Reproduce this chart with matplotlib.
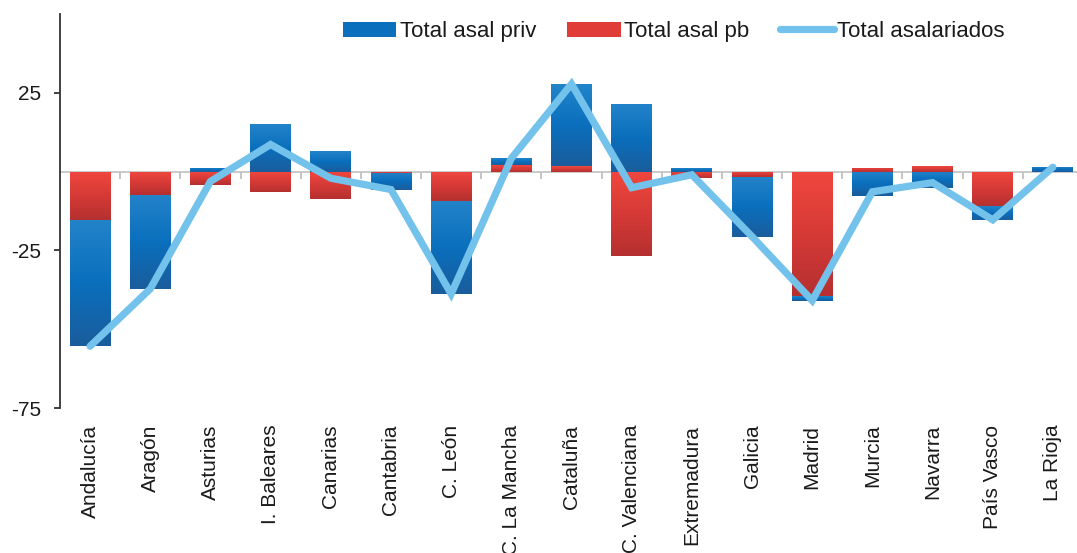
import matplotlib
matplotlib.use("Agg")
import matplotlib.pyplot as plt
from matplotlib.colors import LinearSegmentedColormap
import numpy as np

plt.rcParams['font.family'] = ['Liberation Sans', 'DejaVu Sans']

# data
regions = ["Andalucía", "Aragón", "Asturias", "I. Baleares", "Canarias", "Cantabria",
           "C. León", "C. La Mancha", "Cataluña", "C. Valenciana", "Extremadura",
           "Galicia", "Madrid", "Murcia", "Navarra", "País Vasco", "La Rioja"]
asal_priv = [-40.1, -29.8, 1.3, 15.1, 6.5, -5.4, -29.5, 2.0, 26.0, 21.6, 1.1,
             -19.0, -1.4, -7.7, -5.3, -4.4, 1.6]
asal_pb = [-15.3, -7.4, -4.4, -6.5, -8.6, -0.3, -9.3, 2.2, 1.8, -26.7, -2.1,
           -1.6, -39.5, 1.3, 1.8, -10.9, -0.2]
asal_total = [-55.4, -37.2, -3.1, 8.6, -2.1, -5.7, -38.8, 4.2, 27.8, -5.1, -1.0,
              -20.6, -40.9, -6.4, -3.5, -15.3, 1.4]

x = np.arange(len(regions))
priv = np.array(asal_priv)
pb = np.array(asal_pb)
# public part sits at the base, private stacks on it when same sign
priv_bottom = np.where(np.sign(priv) == np.sign(pb), pb, 0)

fig = plt.figure(figsize=(10.77, 5.53), dpi=100)
ax = fig.add_axes([60 / 1077, 145 / 553, 1023 / 1077, 394 / 553])

ax.axhline(0, color='#c0c0c0', lw=1.2, zorder=1)

bars_pb = ax.bar(x, pb, width=0.68, color='#e03c38', label='Total asal pb', zorder=2)
bars_priv = ax.bar(x, priv, width=0.68, bottom=priv_bottom, color='#0a70bd',
                   label='Total asal priv', zorder=2)

# vertical gradient on each bar segment
cm_blue = LinearSegmentedColormap.from_list('b', ['#1a5d9c', '#0a6fbd', '#2283c9'])
cm_red = LinearSegmentedColormap.from_list('r', ['#b53030', '#d63a36', '#f0473f'])
grad = np.linspace(1, 0, 64).reshape(-1, 1)
for bars, cm in ((bars_pb, cm_red), (bars_priv, cm_blue)):
    for rect in bars:
        bb = rect.get_bbox()
        if abs(bb.y1 - bb.y0) < 1e-6:
            continue
        im = ax.imshow(grad, cmap=cm, aspect='auto', origin='upper',
                       extent=[bb.x0, bb.x1, min(bb.y0, bb.y1), max(bb.y0, bb.y1)],
                       zorder=2.5, interpolation='bilinear')
        im.set_clip_path(rect)

line, = ax.plot(x, asal_total, color='#73c2ec', lw=5.2, solid_joinstyle='miter',
                solid_capstyle='round', label='Total asalariados', zorder=3)

ax.set_xlim(-0.5, len(regions) - 0.5)
ax.set_ylim(-75, 50)

for s in ('top', 'right', 'bottom'):
    ax.spines[s].set_visible(False)
ax.spines['left'].set_color('#333333')
ax.spines['left'].set_linewidth(1.3)

ax.set_yticks([25, -25, -75])
ax.set_yticklabels(['25', '-25', '-75'])
ax.tick_params(axis='y', length=4.5, width=1.3, color='#333333', pad=9,
               labelsize=15, labelcolor='#1a1a1a')
ax.set_xticks(x)
ax.set_xticklabels(regions, rotation=90)
ax.tick_params(axis='x', length=0, pad=12, labelsize=15, labelcolor='#1a1a1a')

# small category separators hanging from the zero line
sec = ax.secondary_xaxis(0, transform=ax.transData)
sec.set_xticks(x[:-1] + 0.5)
sec.set_xticklabels([])
sec.tick_params(axis='x', length=5, width=1.2, color='#bbbbbb', direction='out')
for s in sec.spines.values():
    s.set_visible(False)

ax.legend(handles=[bars_priv, bars_pb, line], ncol=3, loc='center',
          bbox_to_anchor=(0.6, 0.955), frameon=False, fontsize=16,
          handlelength=2.4, handletextpad=0.15, columnspacing=1.4,
          labelcolor='#1a1a1a')

fig.savefig('out.png', dpi=100)
